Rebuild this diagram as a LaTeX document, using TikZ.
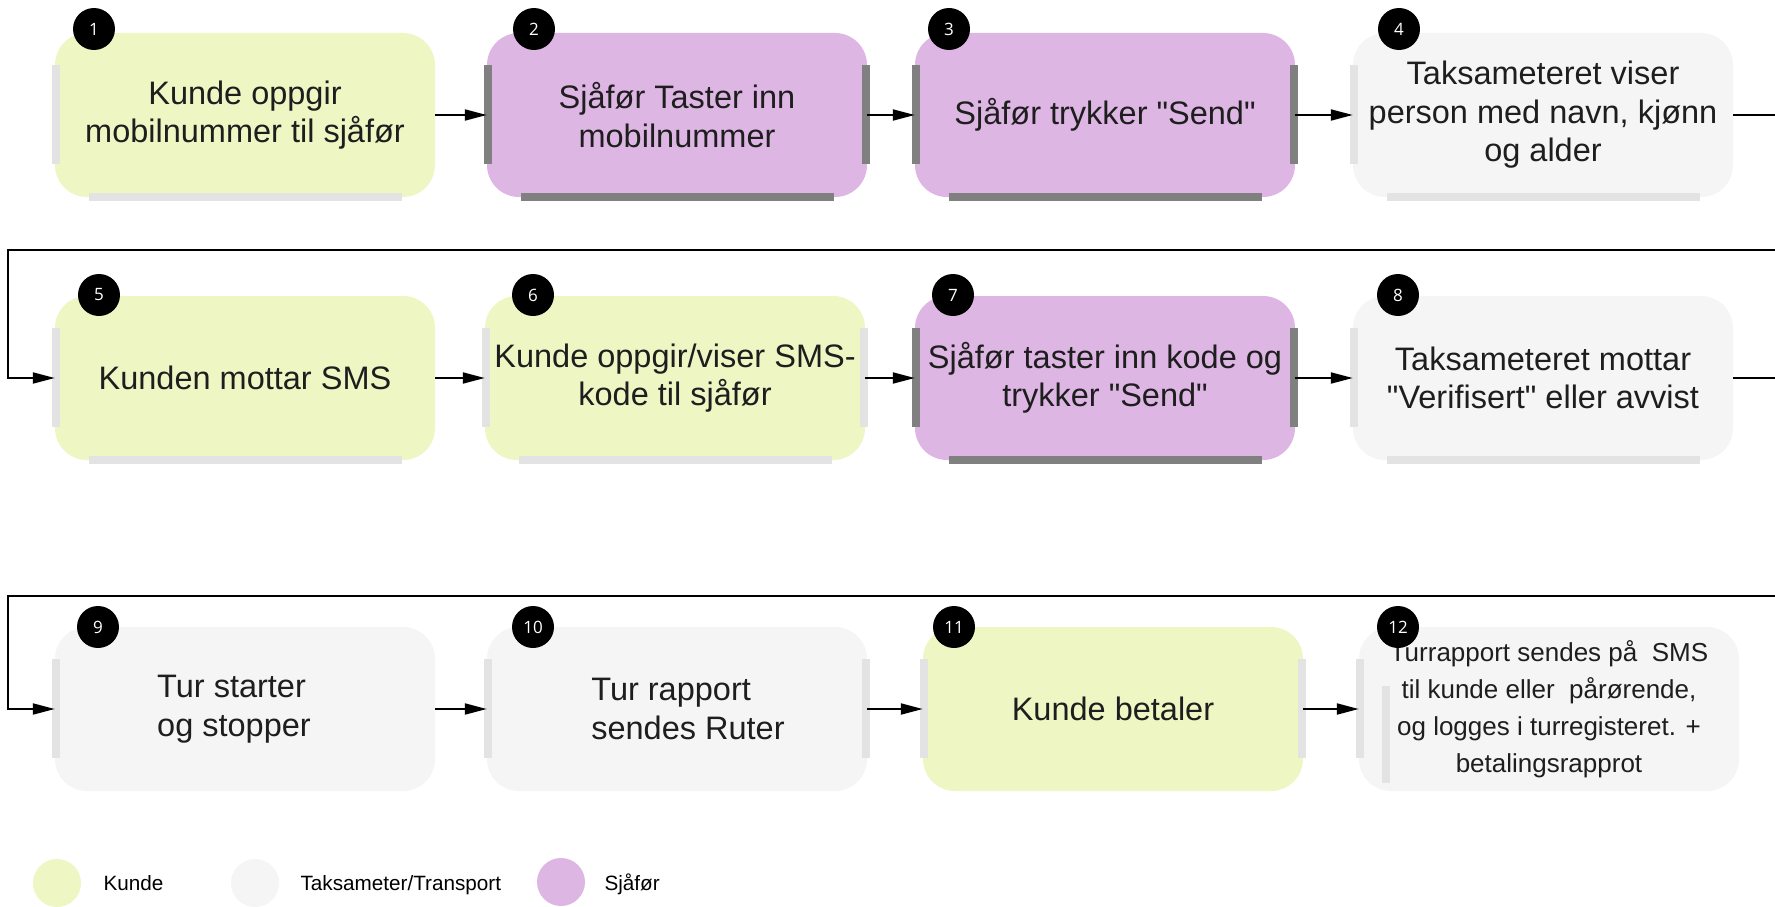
\documentclass[tikz,border=0pt]{standalone}
\usepackage{fontspec}
\newfontfamily\boxfont{Liberation Sans}
\newfontfamily\badgefont{Open Sans}
\usetikzlibrary{arrows.meta}
\definecolor{kundecol}{HTML}{EEF6C4}
\definecolor{sjaforcol}{HTML}{DDB6E4}
\definecolor{taksacol}{HTML}{F5F5F5}
\definecolor{lightbar}{HTML}{E3E3E3}
\definecolor{darkbar}{HTML}{808080}
\definecolor{txtcol}{HTML}{1E1E1E}
\newcommand\qd{\char34\relax}
\newcommand\barLeft[2]{\fill[#1] ([xshift=-3pt,yshift=-32pt]#2.north west) rectangle ([xshift=5pt,yshift=33pt]#2.south west);}
\newcommand\barRight[2]{\fill[#1] ([xshift=-5pt,yshift=-32pt]#2.north east) rectangle ([xshift=3pt,yshift=33pt]#2.south east);}
\newcommand\barBottom[2]{\fill[#1] ([xshift=34pt,yshift=4pt]#2.south west) rectangle ([xshift=-33pt,yshift=-4pt]#2.south east);}
\begin{document}
\begin{tikzpicture}[x=1pt,y=-1pt,
  stepbox/.style={rectangle, rounded corners=32pt, minimum width=380pt, minimum height=164pt,
    inner sep=0pt, align=center, text=txtcol, font=\boxfont\fontsize{32.5}{38.5}\selectfont},
  kundebox/.style={stepbox, fill=kundecol},
  sjaforbox/.style={stepbox, fill=sjaforcol},
  taksabox/.style={stepbox, fill=taksacol},
  badge/.style={circle, fill=black, minimum size=42pt, inner sep=0pt, text=white,
    font=\badgefont\fontsize{17}{17}\selectfont},
  flow/.style={line width=2pt, draw=black, -{Triangle[length=22pt,width=11pt]}},
  legdot/.style={circle, minimum size=48pt, inner sep=0pt},
  legtext/.style={anchor=base west, text=black, font=\boxfont\fontsize{20.7}{24}\selectfont}
]
\useasboundingbox (0,0) rectangle (1775,907);
\clip (0,0) rectangle (1775,907);
\fill[white] (0,0) rectangle (1775,907);

% Row 1
\node[kundebox] (b1) at (245,115) {Kunde oppgir\\mobilnummer til sjåfør};
\node[sjaforbox] (b2) at (677,115) {Sjåfør Taster inn\\mobilnummer};
\node[sjaforbox] (b3) at (1105,115) {Sjåfør trykker \qd Send\qd};
\node[taksabox] (b4) at (1543,115) {Taksameteret viser\\person med navn, kjønn\\og alder};

% Row 2
\node[kundebox] (b5) at (245,378) {Kunden mottar SMS};
\node[kundebox] (b6) at (675,378) {Kunde oppgir/viser SMS-\\kode til sjåfør};
\node[sjaforbox] (b7) at (1105,378) {Sjåfør taster inn kode og\\trykker \qd Send\qd};
\node[taksabox] (b8) at (1543,378) {Taksameteret mottar\\\qd Verifisert\qd{} eller avvist};

% Row 3
\node[taksabox, align=left] (b9) at (245,709) {\hspace*{-22pt}Tur starter\\\hspace*{-22pt}og stopper};
\node[taksabox, align=left] (b10) at (677,709) {\hspace*{22pt}Tur rapport\\\hspace*{22pt}sendes Ruter};
\node[kundebox] (b11) at (1113,709) {Kunde betaler};
\node[taksabox, font=\boxfont\fontsize{26}{37}\selectfont] (b12) at (1549,709)
  {Turrapport sendes på\ \ SMS\\til kunde eller\ \ pårørende,\\og logges i turregisteret. +\\betalingsrapprot};

% Bars
\barLeft{lightbar}{b1} \barBottom{lightbar}{b1}
\barLeft{darkbar}{b2} \barRight{darkbar}{b2} \barBottom{darkbar}{b2}
\barLeft{darkbar}{b3} \barRight{darkbar}{b3} \barBottom{darkbar}{b3}
\barLeft{lightbar}{b4} \barBottom{lightbar}{b4}
\barLeft{lightbar}{b5} \barBottom{lightbar}{b5}
\barLeft{lightbar}{b6} \barRight{lightbar}{b6} \barBottom{lightbar}{b6}
\barLeft{darkbar}{b7} \barRight{darkbar}{b7} \barBottom{darkbar}{b7}
\barLeft{lightbar}{b8} \barBottom{lightbar}{b8}
\barLeft{lightbar}{b9}
\barLeft{lightbar}{b10} \barRight{lightbar}{b10}
\barLeft{lightbar}{b11} \barRight{lightbar}{b11}
\barLeft{lightbar}{b12}
\fill[lightbar] ([xshift=23pt,yshift=-59pt]b12.north west) rectangle ([xshift=31pt,yshift=8pt]b12.south west);

% Badges
\node[badge] (n1) at (94,29) {1};
\node[badge] (n2) at (534,29) {2};
\node[badge] (n3) at (949,29) {3};
\node[badge] (n4) at (1399,29) {4};
\node[badge] (n5) at (99,295) {5};
\node[badge] (n6) at (533,295) {6};
\node[badge] (n7) at (953,295) {7};
\node[badge] (n8) at (1398,295) {8};
\node[badge] (n9) at (98,627) {9};
\node[badge] (n10) at (533,627) {10};
\node[badge] (n11) at (954,627) {11};
\node[badge] (n12) at (1398,627) {12};

% Connectors
\draw[flow] (b1) -- (b2);
\draw[flow] (b2) -- (b3);
\draw[flow] (b3) -- (b4);
\draw[flow] (b5) -- (b6);
\draw[flow] (b6) -- (b7);
\draw[flow] (b7) -- (b8);
\draw[flow] (b9) -- (b10);
\draw[flow] (b10) -- (b11);
\draw[flow] (b11) -- (b12);

\coordinate (e1) at (1800,115);
\coordinate (e2) at (1800,250);
\coordinate (w1) at (8,250);
\draw[flow] (b4.east) -- (e1) -- (e2) -- (w1) |- (b5.west);

\coordinate (e3) at (1800,378);
\coordinate (e4) at (1800,596);
\coordinate (w2) at (8,596);
\draw[flow] (b8.east) -- (e3) -- (e4) -- (w2) |- (b9.west);

% Legend
\node[legdot, fill=kundecol] (l1) at (57,883) {};
\node[legtext] (l1t) at (100,890) {Kunde};
\node[legdot, fill=taksacol] (l2) at (255,883) {};
\node[legtext] (l2t) at (297,890) {Taksameter/Transport};
\node[legdot, fill=sjaforcol] (l3) at (561,882) {};
\node[legtext] (l3t) at (601,890) {Sjåfør};
\end{tikzpicture}
\end{document}
